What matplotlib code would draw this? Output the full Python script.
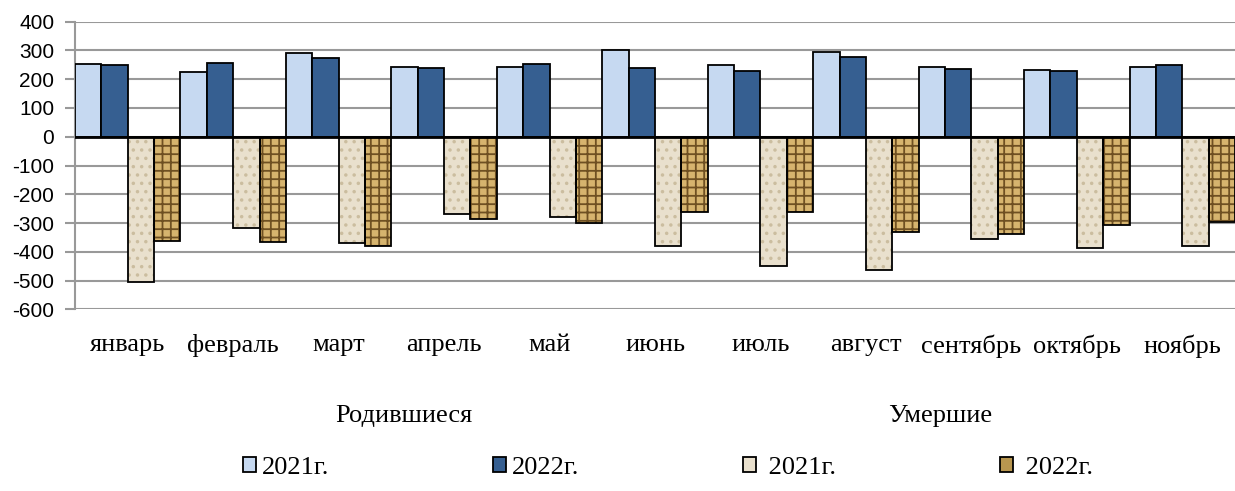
import numpy as np
import matplotlib.pyplot as plt
from matplotlib.patches import Patch

months = ["январь", "февраль", "март", "апрель", "май", "июнь",
          "июль", "август", "сентябрь", "октябрь", "ноябрь"]
born_2021 = [253, 225, 290, 242, 244, 301, 248, 294, 241, 233, 243]
born_2022 = [249, 255, 273, 238, 253, 239, 228, 277, 234, 227, 248]
died_2021 = [-506, -319, -371, -267, -278, -379, -451, -463, -355, -387, -379]
died_2022 = [-363, -366, -379, -286, -301, -261, -263, -332, -339, -307, -297]
yticks = list(range(-600, 401, 100))

plt.rcParams["hatch.linewidth"] = 1.3
serif = ["Liberation Serif", "DejaVu Serif"]

fig = plt.figure(figsize=(12.35, 4.91), dpi=100)
ax = fig.add_axes([75 / 1235, 1 - 309.3 / 491, 1 - 75 / 1235, (309.3 - 21.7) / 491])

x = np.arange(len(months))
w = 0.25

# births: plain fills
ax.bar(x - 1.5 * w, born_2021, w, color="#c6d9f1", edgecolor="black", lw=1.3, zorder=3)
ax.bar(x - 0.5 * w, born_2022, w, color="#365f91", edgecolor="black", lw=1.3, zorder=3)

# deaths: textured fills, hatch drawn first, black outline on top
ax.bar(x + 0.5 * w, died_2021, w, color="#e9e0cd", edgecolor="#cbbd9f", hatch="..", lw=0, zorder=3)
ax.bar(x + 0.5 * w, died_2021, w, fill=False, edgecolor="black", lw=1.3, zorder=4)
ax.bar(x + 1.5 * w, died_2022, w, color="#d6b46e", edgecolor="#6e5022", hatch="++", lw=0, zorder=3)
ax.bar(x + 1.5 * w, died_2022, w, fill=False, edgecolor="black", lw=1.3, zorder=4)

ax.axhline(0, color="black", lw=2, zorder=5)

ax.set_xlim(-0.5, len(months) - 0.5)
ax.set_ylim(-600, 400)
ax.set_yticks(yticks)
ax.set_yticklabels([str(v) for v in yticks], family="Liberation Sans", fontsize=15)
ax.grid(axis="y", color="#999999", lw=1.5, zorder=0)
ax.tick_params(axis="y", length=7, width=1.5, color="#999999", pad=8)

ax.set_xticks(x)
ax.set_xticklabels(months, family=serif, fontsize=19)
ax.tick_params(axis="x", length=0, pad=18)

for s in ["top", "right", "bottom"]:
    ax.spines[s].set_visible(False)
ax.spines["left"].set_color("#999999")
ax.spines["left"].set_linewidth(1.5)

fig.text(404 / 1235, 1 - 416 / 491, "Родившиеся", family=serif, fontsize=19, ha="center", va="center")
fig.text(940 / 1235, 1 - 416 / 491, "Умершие", family=serif, fontsize=19, ha="center", va="center")

handles = [
    Patch(facecolor="#c6d9f1", edgecolor="black", lw=1.3),
    Patch(facecolor="#365f91", edgecolor="black", lw=1.3),
    Patch(facecolor="#e9e0cd", edgecolor="black", lw=1.3),
    Patch(facecolor="#b8964f", edgecolor="black", lw=1.3),
]
labels = ["2021г.", "2022г.", " 2021г.", " 2022г."]
fig.legend(handles, labels, loc="center", bbox_to_anchor=(668 / 1235, 1 - 468 / 491),
           ncol=4, frameon=False, prop={"family": serif, "size": 19},
           handlelength=0.5, handleheight=0.5, handletextpad=0.23, columnspacing=6.2)

fig.savefig("out.png", dpi=100)
